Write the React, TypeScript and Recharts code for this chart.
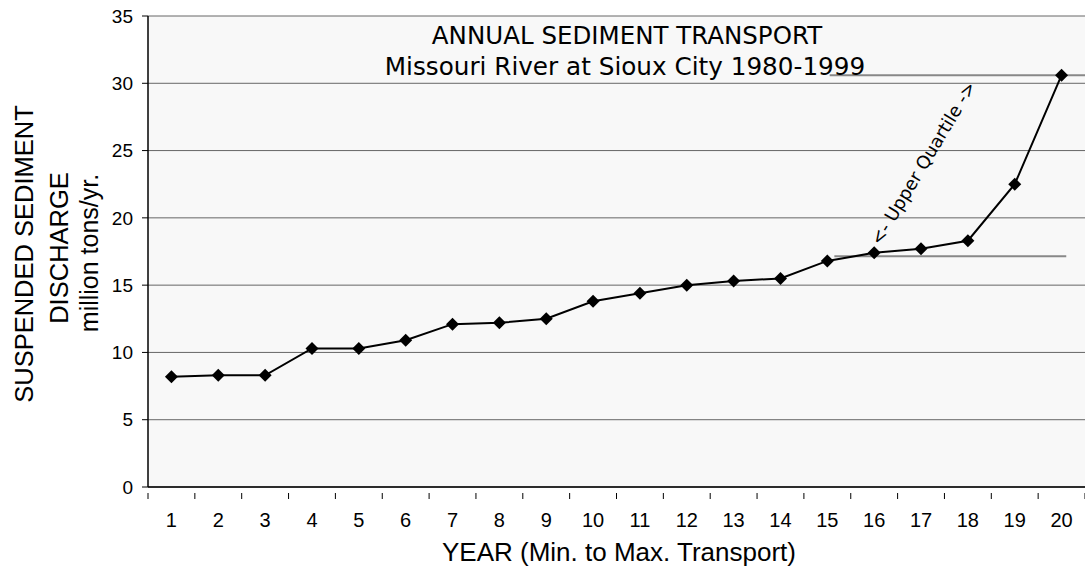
import React from "react";
import { LineChart, Line, CartesianGrid, XAxis, YAxis, ReferenceLine } from "recharts";

const years = [1, 2, 3, 4, 5, 6, 7, 8, 9, 10, 11, 12, 13, 14, 15, 16, 17, 18, 19, 20];
const transport = [8.2, 8.3, 8.3, 10.3, 10.3, 10.9, 12.1, 12.2, 12.5, 13.8, 14.4, 15.0, 15.3, 15.5, 16.8, 17.4, 17.7, 18.3, 22.5, 30.6];
const yTicks = [0, 5, 10, 15, 20, 25, 30, 35];
const upperQuartileTop = 30.6;
const upperQuartileBottom = 17.15;

const data = years.map((year, i) => ({ year, value: transport[i] }));

// integer ticks carry labels, half ticks carry the tick marks between categories
const xTicks: number[] = [];
for (let i = 0; i <= years.length; i++) {
  xTicks.push(i + 0.5);
  if (i < years.length) xTicks.push(years[i]);
}

const font = "'Liberation Sans', Arial, sans-serif";
const titleFont = "'DejaVu Sans', Verdana, sans-serif";

const XTick = (props: any) => {
  const { x, y, payload } = props;
  const v = payload.value;
  if (Number.isInteger(v)) {
    return (
      <text x={x} y={y + 34} textAnchor="middle" fontSize={20} fontFamily={font} fill="#000">
        {v}
      </text>
    );
  }
  return <line x1={x} y1={y} x2={x} y2={y + 6} stroke="#000" strokeWidth={1} />;
};

const Diamond = (props: any) => {
  const { cx, cy } = props;
  if (cx == null || cy == null) return null;
  const r = 6.5;
  return <path d={`M${cx},${cy - r}L${cx + r},${cy}L${cx},${cy + r}L${cx - r},${cy}Z`} fill="#000" />;
};

export default function App() {
  return (
    <div style={{ position: "absolute", left: 0, top: 0, width: 1085, height: 570, background: "#fff" }}>
      <LineChart width={1085} height={570} data={data} margin={{ top: 16, right: 0, left: 98, bottom: 53 }}>
        <CartesianGrid vertical={false} stroke="#666" fill="#f8f8f8" />
        <XAxis
          dataKey="year"
          type="number"
          domain={[0.5, 20.5]}
          ticks={xTicks}
          interval={0}
          tick={<XTick />}
          tickLine={false}
          tickMargin={0}
          axisLine={{ stroke: "#000", strokeWidth: 1.5 }}
          height={30}
        />
        <YAxis
          type="number"
          domain={[0, 35]}
          ticks={yTicks}
          interval={0}
          width={50}
          tick={{ fontSize: 19, fontFamily: font, fill: "#000" }}
          tickLine={{ stroke: "#000" }}
          tickSize={6}
          tickMargin={9}
          axisLine={{ stroke: "#000", strokeWidth: 1.5 }}
        />
        <ReferenceLine
          segment={[{ x: 15.05, y: upperQuartileTop }, { x: 20.5, y: upperQuartileTop }]}
          stroke="#888"
          strokeWidth={2}
        />
        <ReferenceLine
          segment={[{ x: 15.15, y: upperQuartileBottom }, { x: 20.1, y: upperQuartileBottom }]}
          stroke="#888"
          strokeWidth={2}
        />
        <Line
          dataKey="value"
          stroke="#000"
          strokeWidth={2}
          dot={<Diamond />}
          activeDot={false}
          isAnimationActive={false}
        />
      </LineChart>
      <svg width={1085} height={570} style={{ position: "absolute", left: 0, top: 0, pointerEvents: "none" }}>
        <g fill="#000">
          <text x={627} y={44} textAnchor="middle" fontSize={24.5} fontFamily={titleFont}>ANNUAL SEDIMENT TRANSPORT</text>
          <text x={625} y={75} textAnchor="middle" fontSize={24.7} fontFamily={titleFont}>Missouri River at Sioux City 1980-1999</text>
          <text x={619} y={561} textAnchor="middle" fontSize={26} fontFamily={font}>YEAR (Min. to Max. Transport)</text>
          <text transform="translate(33,254) rotate(-90)" textAnchor="middle" fontSize={25.5} fontFamily={font}>SUSPENDED SEDIMENT</text>
          <text transform="translate(68,248) rotate(-90)" textAnchor="middle" fontSize={25.5} fontFamily={font}>DISCHARGE</text>
          <text transform="translate(98,253) rotate(-90)" textAnchor="middle" fontSize={25} fontFamily={font}>million tons/yr.</text>
          <text transform="translate(923,163) rotate(-59)" textAnchor="middle" dominantBaseline="central" fontSize={18} fontFamily={titleFont}>{"<- Upper Quartile ->"}</text>
        </g>
      </svg>
    </div>
  );
}
